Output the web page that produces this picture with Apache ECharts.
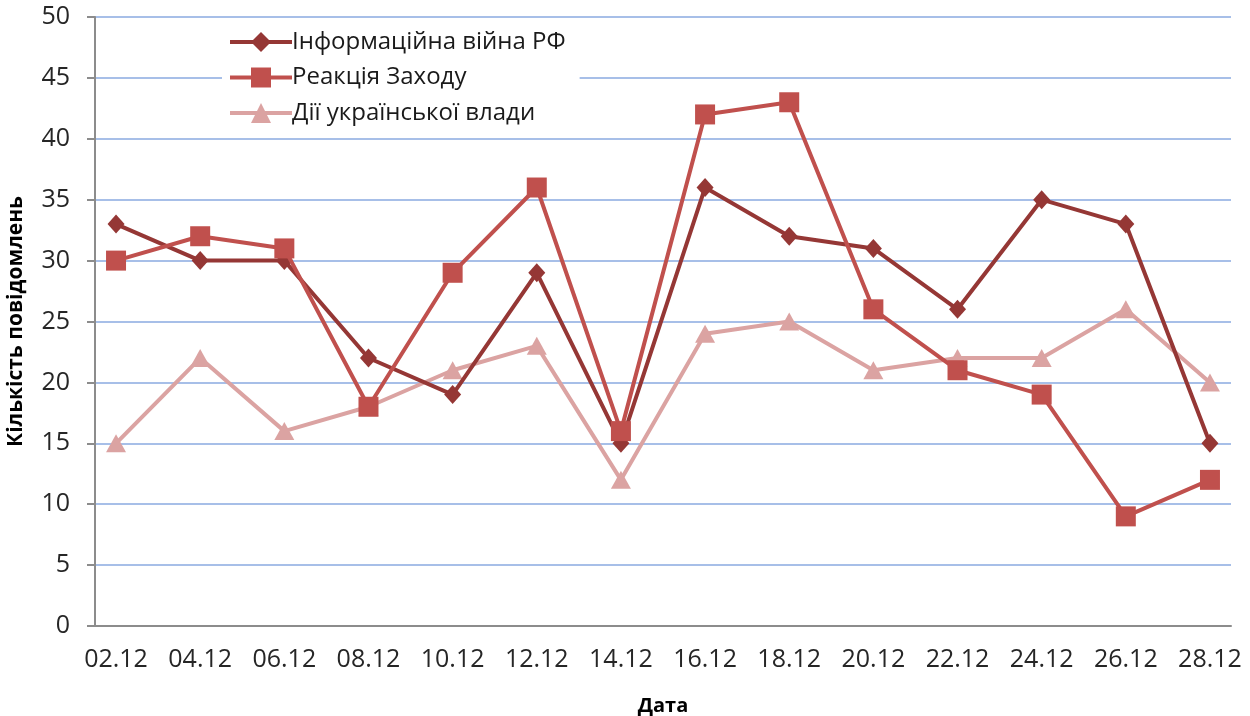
<!DOCTYPE html>
<html>
<head>
<meta charset="utf-8">
<script src="https://cdn.jsdelivr.net/npm/echarts@6/dist/echarts.min.js"></script>
<style>html,body{margin:0;padding:0;background:#fff}#c{width:1250px;height:716px}</style>
</head>
<body>
<div id="c"></div>
<script>
const dates = ['02.12','04.12','06.12','08.12','10.12','12.12','14.12','16.12','18.12','20.12','22.12','24.12','26.12','28.12'];
const infoWar = [33,30,30,22,19,29,15,36,32,31,26,35,33,15];
const westReaction = [30,32,31,18,29,36,16,42,43,26,21,19,9,12];
const uaGov = [15,22,16,18,21,23,12,24,25,21,22,22,26,20];
const seriesNames = ['Інформаційна війна РФ','Реакція Заходу','Дії української влади'];
const yTicks = [0,5,10,15,20,25,30,35,40,45,50];

const toPts = arr => arr.map((v,i)=>[i,v]);
const font = '"Open Sans", "Noto Sans", sans-serif';
const chart = echarts.init(document.getElementById('c'));
chart.setOption({
  animation:false,
  backgroundColor:'#fff',
  textStyle:{fontFamily:font},
  grid:{left:95,right:19,top:17,bottom:90,outerBoundsMode:'none',containLabel:false},
  legend:{
    orient:'vertical', left:222, top:28,
    backgroundColor:'#fff', padding:[2,14,2,6],
    itemWidth:62, itemHeight:25, itemGap:11.5,
    lineStyle:{width:4},
    textStyle:{fontFamily:font,fontSize:24,color:'#1a1a1a',padding:[0,0,0,-5]},
    data:seriesNames
  },
  xAxis:{
    type:'value', min:-0.25, max:13.25,
    name:'Дата', nameLocation:'middle', nameGap:70,
    nameTextStyle:{fontFamily:font,fontSize:20,fontWeight:'bold',color:'#000'},
    axisLine:{onZero:false,lineStyle:{color:'#8c8c8c',width:2}},
    axisTick:{show:false},
    splitLine:{show:false},
    axisLabel:{customValues:dates.map((d,i)=>i), formatter:v=>dates[Math.round(v)], fontSize:25, color:'#262626', margin:21}
  },
  yAxis:{
    type:'value', min:0, max:50, interval:5,
    name:'Кількість повідомлень', nameLocation:'middle', nameGap:68, nameRotate:90,
    nameTextStyle:{fontFamily:font,fontSize:21,fontWeight:'bold',color:'#000'},
    axisLine:{show:true,onZero:false,lineStyle:{color:'#8c8c8c',width:2}},
    axisTick:{show:true,inside:false,length:8,lineStyle:{color:'#8c8c8c',width:2}},
    splitLine:{showMinLine:false,lineStyle:{color:'#a7bfe8',width:2}},
    axisLabel:{fontSize:25,color:'#262626',margin:25,formatter:v=>yTicks.includes(v)?String(v):''}
  },
  series:[
    {name:seriesNames[2],type:'line',data:toPts(uaGov),symbol:'triangle',symbolSize:[20,18],
     itemStyle:{color:'#dba3a2'},lineStyle:{width:4,color:'#dba3a2'},z:2},
    {name:seriesNames[0],type:'line',data:toPts(infoWar),symbol:'diamond',symbolSize:[17,19],
     itemStyle:{color:'#953735'},lineStyle:{width:4,color:'#953735'},z:3},
    {name:seriesNames[1],type:'line',data:toPts(westReaction),symbol:'rect',symbolSize:[20,20],
     itemStyle:{color:'#c0504d'},lineStyle:{width:4,color:'#c0504d'},z:4}
  ]
});
</script>
</body>
</html>
